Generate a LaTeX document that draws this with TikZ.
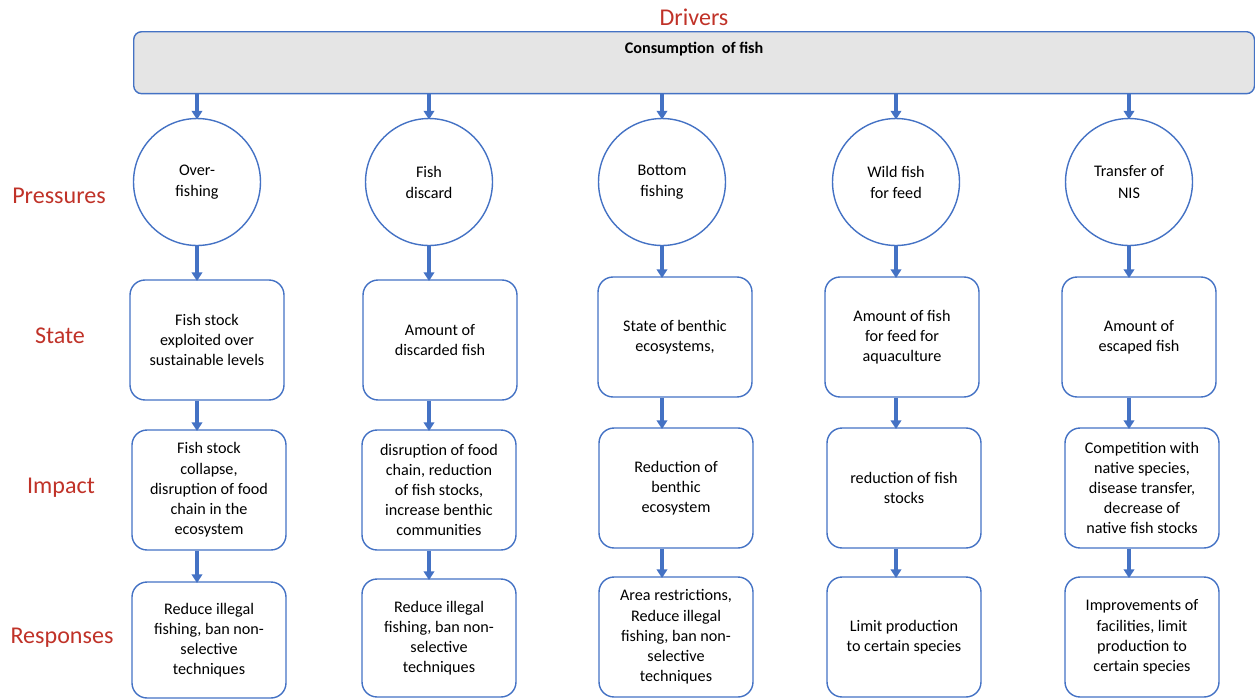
\documentclass[tikz,border=0pt]{standalone}
\usepackage{fontspec}
\setmainfont{Carlito}
\usetikzlibrary{arrows.meta}
\definecolor{dpsirblue}{RGB}{68,114,196}
\definecolor{dpsirred}{RGB}{192,50,40}
\definecolor{dpsirgray}{RGB}{229,229,229}
\begin{document}
\begin{tikzpicture}[x=0.02cm, y=-0.02cm,
  >={Triangle[width=6pt,length=5pt]},
  rowlabel/.style={text=dpsirred, font=\fontsize{13.7}{16}\selectfont},
  press/.style={circle, draw=dpsirblue, line width=0.8pt, minimum size=2.54cm, inner sep=0pt,
    align=center, font=\fontsize{9.2}{12}\selectfont},
  box/.style={draw=dpsirblue, line width=0.8pt, rounded corners=0.3cm, minimum width=3.08cm,
    minimum height=2.4cm, inner sep=1pt, align=center, font=\fontsize{9.2}{11.5}\selectfont},
  flow/.style={->, draw=dpsirblue, line width=2pt, shorten >=-1pt}]
\useasboundingbox (0,0) rectangle (1255,700);

% drivers
\node[rowlabel] (drvlab) at (694,17) {Drivers};
\node[draw=dpsirblue, fill=dpsirgray, line width=0.8pt, rounded corners=0.16cm, anchor=north west,
  minimum width=22.42cm, inner sep=0pt, text height=0.44cm, text depth=0.8cm,
  font=\fontsize{9.2}{10}\selectfont\bfseries] (drv) at (133,31) {Consumption\ \ of fish};

% row labels
\node[rowlabel] (plab) at (59,196) {Pressures};
\node[rowlabel] (slab) at (60,336) {State};
\node[rowlabel] (ilab) at (61,488) {Impact};
\node[rowlabel] (rlab) at (62,638) {Responses};

% pressures
\node[press] (p1) at (197,182) {Over-\\fishing};
\node[press] (p2) at (429,182) {Fish\\discard};
\node[press] (p3) at (662,182) {Bottom\\fishing};
\node[press] (p4) at (896,182) {Wild fish\\for feed};
\node[press] (p5) at (1129,182) {Transfer of\\NIS};

% state
\node[box] (s1) at (207,340) {Fish stock\\exploited over\\sustainable levels};
\node[box] (s2) at (440,340) {Amount of\\discarded fish};
\node[box] (s3) at (675,337) {State of benthic\\ecosystems,};
\node[box] (s4) at (902,337) {Amount of fish\\for feed for\\aquaculture};
\node[box] (s5) at (1139,337) {Amount of\\escaped fish};

% impact
\node[box] (i1) at (209,490) {Fish stock\\collapse,\\disruption of food\\chain in the\\ecosystem};
\node[box] (i2) at (439,490) {disruption of food\\chain, reduction\\of fish stocks,\\increase benthic\\communities};
\node[box] (i3) at (676,488) {Reduction of\\benthic\\ecosystem};
\node[box] (i4) at (904,488) {reduction of fish\\stocks};
\node[box] (i5) at (1142,488) {Competition with\\native species,\\disease transfer,\\decrease of\\native fish stocks};

% responses
\node[box, minimum height=2.32cm] (r1) at (209,640) {Reduce illegal\\fishing, ban non-\\selective\\techniques};
\node[box, minimum height=2.36cm] (r2) at (439,638) {Reduce illegal\\fishing, ban non-\\selective\\techniques};
\node[box] (r3) at (676,637) {Area restrictions,\\Reduce illegal\\fishing, ban non-\\selective\\techniques};
\node[box] (r4) at (904,637) {Limit production\\to certain species};
\node[box] (r5) at (1142,637) {Improvements of\\facilities, limit\\production to\\certain species};

% arrows
\foreach \n in {1,...,5}{
  \draw[flow] (p\n.north |- drv.south) -- (p\n.north);
  \draw[flow] (p\n.south) -- (p\n.south |- s\n.north);
  \draw[flow] (s\n.south -| p\n) -- (i\n.north -| p\n);
  \draw[flow] (i\n.south -| p\n) -- (r\n.north -| p\n);
}
\end{tikzpicture}
\end{document}
